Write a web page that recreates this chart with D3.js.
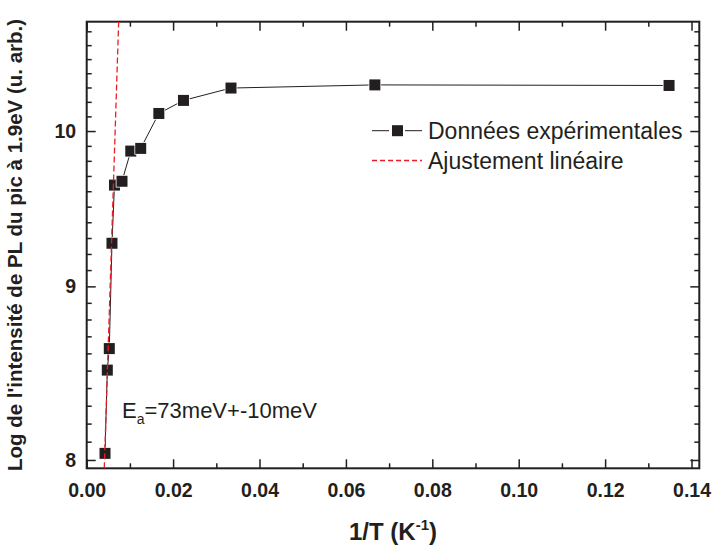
<!DOCTYPE html>
<html><head><meta charset="utf-8">
<script src="https://cdn.jsdelivr.net/npm/d3@7"></script>
<style>
html,body{margin:0;padding:0;background:#fff;}
svg{display:block;}
text{font-family:"Liberation Sans",Arial,Helvetica,sans-serif;fill:#231f20;}
</style></head>
<body>
<svg id="chart" width="712" height="548"></svg>
<script>
// ---- data ----
const invT = [0.00424, 0.00477, 0.00523, 0.00585, 0.00643, 0.00817, 0.0102, 0.0125, 0.0167, 0.0224, 0.0334, 0.0667, 0.1348];
const logPL = [8.036, 8.503, 8.628, 9.267, 9.640, 9.665, 9.865, 9.883, 10.120, 10.210, 10.296, 10.318, 10.314];
const fitX = [0.00407, 0.0074];
const fitY = [7.955, 10.77];
const xMajorTicks = [0, 0.02, 0.04, 0.06, 0.08, 0.10, 0.12, 0.14];
const xMinorTicks = [0.01, 0.03, 0.05, 0.07, 0.09, 0.11, 0.13];
const yMajorTicks = [8, 9, 10];
const yMinorTicks = [8.1,8.2,8.3,8.4,8.5,8.6,8.7,8.8,8.9,9.1,9.2,9.3,9.4,9.5,9.6,9.7,9.8,9.9,10.1,10.2,10.3,10.4,10.5,10.6,10.7];
const legendLabels = ["Données expérimentales", "Ajustement linéaire"];

const W = 712, H = 548;
const m = {left: 86.7, right: 12.7, top: 21.7, bottom: 79.7};
const ink = "#231f20";
const red = "#ed1c24";
const svg = d3.select("#chart");

const x = d3.scaleLinear().domain([0, 0.1418]).range([m.left, W - m.right]);
const y = d3.scaleLog().domain([7.955, 10.77]).range([H - m.bottom, m.top]);

const fmtX = d3.format(".2f");

function styleAxis(g){
  g.select(".domain").remove();
  g.selectAll(".tick line").attr("stroke", ink).attr("stroke-width", 1.5);
  g.selectAll(".tick text").attr("fill", ink).style("font-family", '"Liberation Sans",Arial,sans-serif')
    .style("font-weight", "bold").style("font-size", "19.5px");
}

// bottom axis
svg.append("g").attr("transform", `translate(0,${H - m.bottom})`)
  .call(d3.axisBottom(x).tickValues(xMajorTicks).tickSize(-9).tickPadding(14.5).tickFormat(fmtX))
  .call(styleAxis);
svg.append("g").attr("transform", `translate(0,${H - m.bottom})`)
  .call(d3.axisBottom(x).tickValues(xMinorTicks).tickSize(-5).tickFormat(""))
  .call(styleAxis);
// top axis
svg.append("g").attr("transform", `translate(0,${m.top})`)
  .call(d3.axisTop(x).tickValues(xMajorTicks).tickSize(-9).tickFormat(""))
  .call(styleAxis);
svg.append("g").attr("transform", `translate(0,${m.top})`)
  .call(d3.axisTop(x).tickValues(xMinorTicks).tickSize(-5).tickFormat(""))
  .call(styleAxis);
// left axis
svg.append("g").attr("transform", `translate(${m.left},0)`)
  .call(d3.axisLeft(y).tickValues(yMajorTicks).tickSize(-9).tickPadding(10.5).tickFormat(d3.format("d")))
  .call(styleAxis);
svg.append("g").attr("transform", `translate(${m.left},0)`)
  .call(d3.axisLeft(y).tickValues(yMinorTicks).tickSize(-5).tickFormat(""))
  .call(styleAxis);
// right axis
svg.append("g").attr("transform", `translate(${W - m.right},0)`)
  .call(d3.axisRight(y).tickValues(yMajorTicks).tickSize(-9).tickFormat(""))
  .call(styleAxis);
svg.append("g").attr("transform", `translate(${W - m.right},0)`)
  .call(d3.axisRight(y).tickValues(yMinorTicks).tickSize(-5).tickFormat(""))
  .call(styleAxis);

// frame
svg.append("rect").attr("x", m.left).attr("y", m.top)
  .attr("width", W - m.left - m.right).attr("height", H - m.top - m.bottom)
  .attr("fill", "none").attr("stroke", ink).attr("stroke-width", 2);

// clip
svg.append("clipPath").attr("id", "clip").append("rect")
  .attr("x", m.left).attr("y", m.top).attr("width", W - m.left - m.right).attr("height", H - m.top - m.bottom);

const pts = invT.map((v, i) => [v, logPL[i]]);
// data line
svg.append("path").datum(pts)
  .attr("d", d3.line().x(d => x(d[0])).y(d => y(d[1])))
  .attr("fill", "none").attr("stroke", ink).attr("stroke-width", 1);
// markers
const ms = 11;
svg.append("g").selectAll("rect").data(pts).join("rect")
  .attr("x", d => x(d[0]) - ms / 2).attr("y", d => y(d[1]) - ms / 2)
  .attr("width", ms).attr("height", ms)
  .attr("fill", ink).attr("stroke", "#fff").attr("stroke-width", 1.5).attr("paint-order", "stroke");

// fit line
svg.append("line").attr("clip-path", "url(#clip)")
  .attr("x1", x(fitX[0])).attr("y1", y(fitY[0]))
  .attr("x2", x(fitX[1])).attr("y2", y(fitY[1]))
  .attr("stroke", red).attr("stroke-width", 1.3).attr("stroke-dasharray", "6,3");

// legend
const lg = svg.append("g");
const lx0 = 372, lx1 = 422, ly = [130.7, 160.5];
lg.append("line").attr("x1", lx0).attr("x2", lx0 + 17).attr("y1", ly[0]).attr("y2", ly[0]).attr("stroke", ink).attr("stroke-width", 1);
lg.append("line").attr("x1", lx1 - 17).attr("x2", lx1).attr("y1", ly[0]).attr("y2", ly[0]).attr("stroke", ink).attr("stroke-width", 1);
lg.append("rect").attr("x", (lx0 + lx1) / 2 - ms / 2 + 0.5).attr("y", ly[0] - ms / 2).attr("width", ms).attr("height", ms).attr("fill", ink);
lg.append("line").attr("x1", lx0).attr("x2", lx1).attr("y1", ly[1]).attr("y2", ly[1])
  .attr("stroke", red).attr("stroke-width", 1.3).attr("stroke-dasharray", "5,3");
lg.selectAll("text").data(legendLabels).join("text")
  .attr("x", 428).attr("y", (d, i) => ly[i]).attr("dy", "0.36em")
  .style("font-size", "23px").text(d => d);

// annotation
const ann = svg.append("text").attr("x", 122).attr("y", 418).style("font-size", "22px");
ann.append("tspan").text("E");
ann.append("tspan").attr("dy", 6).style("font-size", "14px").text("a");
ann.append("tspan").attr("dy", -6).text("=73meV+-10meV");

// axis titles
const xt = svg.append("text").attr("x", (m.left + W - m.right) / 2).attr("y", 540)
  .attr("text-anchor", "middle").style("font-size", "24px").style("font-weight", "bold");
xt.append("tspan").text("1/T (K");
xt.append("tspan").attr("dy", -10).style("font-size", "15px").text("-1");
xt.append("tspan").attr("dy", 10).text(")");

svg.append("text").attr("transform", `translate(22,${(m.top + H - m.bottom) / 2}) rotate(-90)`)
  .attr("text-anchor", "middle").style("font-size", "20.5px").style("font-weight", "bold")
  .text("Log de l'intensité de PL du pic à 1.9eV (u. arb.)");
</script>
</body></html>
